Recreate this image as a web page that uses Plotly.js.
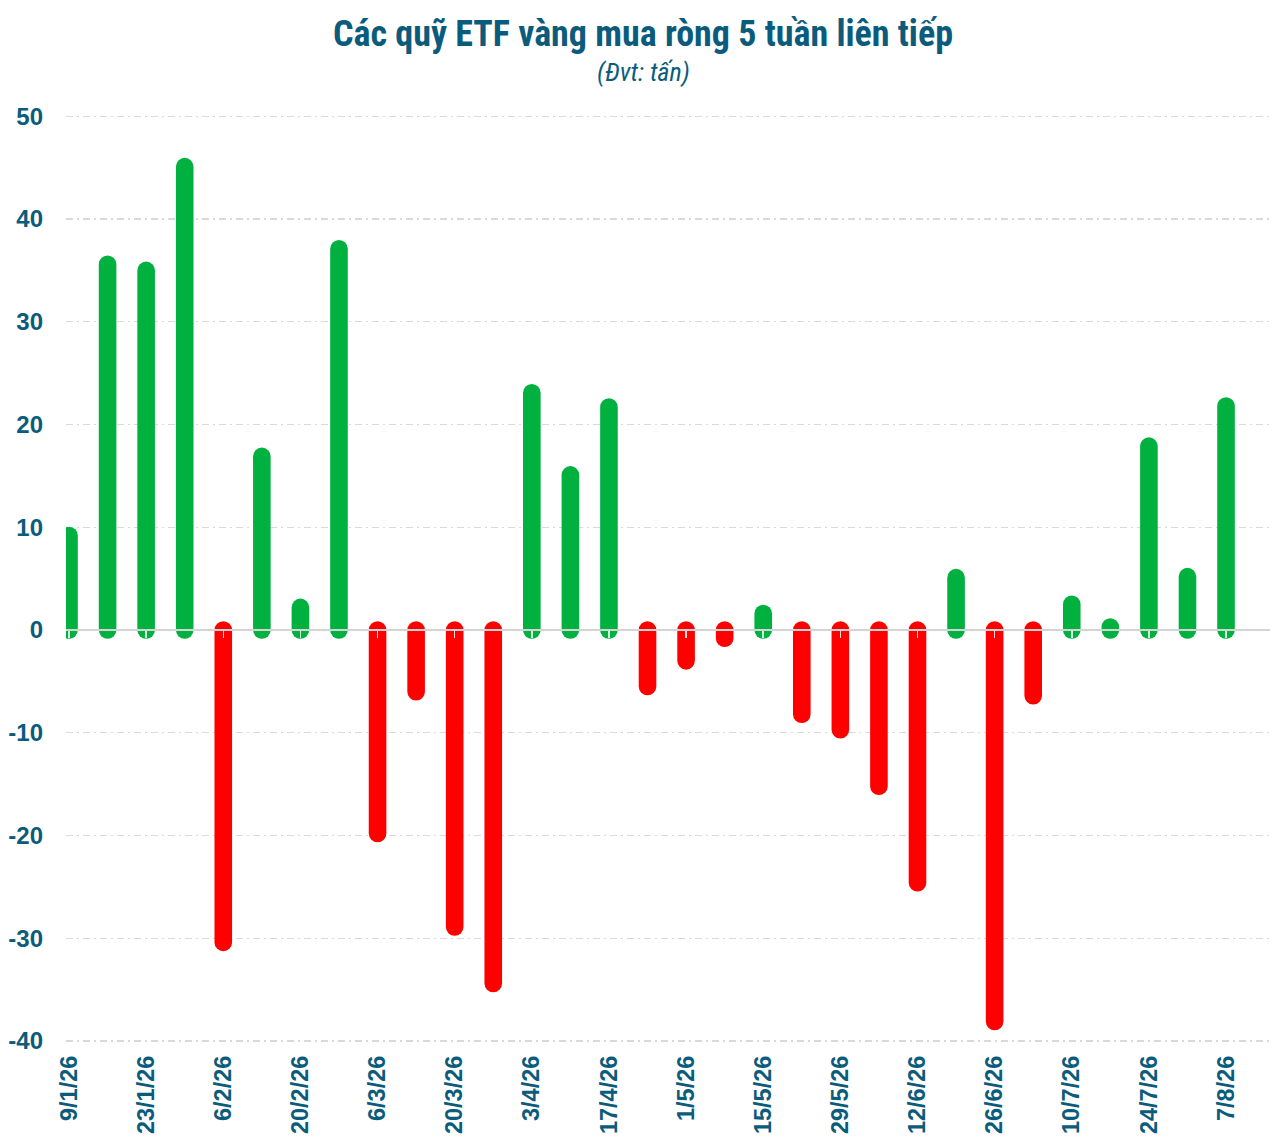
<!DOCTYPE html>
<html>
<head>
<meta charset="utf-8">
<script src="https://cdn.plot.ly/plotly-3.0.1.min.js"></script>
<style>
  html, body { margin: 0; padding: 0; background: #ffffff; }
  #chart { width: 1286px; height: 1144px; }
  #chart path.js-line { stroke-linecap: round !important; }
</style>
</head>
<body>
<div id="chart"></div>
<script>
// ---- Data (tấn) ----
const weeks = ['9/1/26','16/1/26','23/1/26','30/1/26','6/2/26','13/2/26','20/2/26','27/2/26',
  '6/3/26','13/3/26','20/3/26','27/3/26','3/4/26','10/4/26','17/4/26','24/4/26',
  '1/5/26','8/5/26','15/5/26','22/5/26','29/5/26','5/6/26','12/6/26','19/6/26',
  '26/6/26','3/7/26','10/7/26','17/7/26','24/7/26','31/7/26','7/8/26'];
const flows = [9.2, 35.6, 35.0, 45.1, -30.4, 16.9, 2.2, 37.1,
  -19.8, -6.0, -28.9, -34.4, 23.1, 15.1, 21.7, -5.5,
  -3.0, -0.8, 1.6, -8.2, -9.7, -15.2, -24.6, 5.1,
  -38.1, -6.4, 2.5, 0.3, 17.9, 5.2, 21.8];
const yTicks = [-40, -30, -20, -10, 0, 10, 20, 30, 40, 50];
const titleText = 'Các quỹ ETF vàng mua ròng 5 tuần liên tiếp';
const subtitleText = '(Đvt: tấn)';

// ---- Styling ----
const TEAL = '#0b5c7c';
const GREEN = '#00b140';
const RED = '#ff0000';
const BAR_W = 17.6;
const NARROW = '"Liberation Sans Narrow", "Roboto Condensed", "Arial Narrow", Roboto, sans-serif';
const SANS = '"Liberation Sans", Arial, sans-serif';

function segs(sign) {
  const x = [], y = [];
  flows.forEach((v, i) => {
    if ((sign > 0 && v >= 0) || (sign < 0 && v < 0)) {
      x.push(i, i, null);
      y.push(0, v, null);
    }
  });
  return {x, y};
}
const pos = segs(1), neg = segs(-1);

const labelIdx = weeks.map((w, i) => i).filter(i => i % 2 === 0);
const labelTxt = labelIdx.map(i => weeks[i]);

const yRange = [-40.29, 50.32];
const xRange = [-0.078, 31.14];
const zeroFrac = (0 - yRange[0]) / (yRange[1] - yRange[0]);

const traces = [
  {type: 'scatter', mode: 'lines', x: pos.x, y: pos.y, connectgaps: false,
   line: {color: GREEN, width: BAR_W, simplify: false}, hoverinfo: 'skip', showlegend: false},
  {type: 'scatter', mode: 'lines', x: neg.x, y: neg.y, connectgaps: false,
   line: {color: RED, width: BAR_W, simplify: false}, hoverinfo: 'skip', showlegend: false},
  {type: 'scatter', mode: 'markers', x: [0], y: [0], xaxis: 'x2', yaxis: 'y',
   marker: {opacity: 0, size: 1}, hoverinfo: 'skip', showlegend: false}
];

const layout = {
  width: 1286, height: 1144,
  margin: {l: 66, r: 16, t: 113, b: 100, pad: 0},
  paper_bgcolor: '#ffffff', plot_bgcolor: '#ffffff',
  showlegend: false, hovermode: false,
  title: {
    text: '<b>' + titleText + '</b>',
    x: 0.5, xref: 'container', xanchor: 'center',
    y: 1 - 33 / 1144, yref: 'container', yanchor: 'middle',
    font: {family: NARROW, size: 36, color: TEAL}
  },
  annotations: [{
    text: '<i>' + subtitleText + '</i>',
    xref: 'paper', x: (643 - 66) / 1204, xanchor: 'center',
    yref: 'paper', y: 1 + (113 - 72) / 931, yanchor: 'middle',
    showarrow: false,
    font: {family: NARROW, size: 26, color: TEAL}
  }],
  xaxis: {
    range: xRange, fixedrange: true,
    tickmode: 'array', tickvals: labelIdx, ticktext: labelTxt,
    tickangle: -90, ticks: '', showgrid: false, zeroline: false, showline: false,
    ticklabelstandoff: 6,
    tickfont: {family: SANS, size: 23.5, color: TEAL, weight: 'bold'}
  },
  xaxis2: {
    overlaying: 'x', anchor: 'free', position: zeroFrac, side: 'bottom',
    range: xRange, fixedrange: true,
    tickmode: 'array', tickvals: labelIdx, showticklabels: false,
    ticks: 'outside', ticklen: 7, tickwidth: 1.5, tickcolor: 'rgba(255,255,255,0.85)',
    showline: true, linecolor: '#d4d4d4', linewidth: 2,
    showgrid: false, zeroline: false, layer: 'above traces'
  },
  yaxis: {
    range: yRange, fixedrange: true,
    tickmode: 'array', tickvals: yTicks, ticktext: yTicks.map(String),
    showgrid: true, gridcolor: '#d9d9d9', gridwidth: 1.3, griddash: '7px,4px,2px,4px',
    zeroline: false, showline: false, ticks: '',
    ticklabelstandoff: 22,
    tickfont: {family: SANS, size: 24, color: TEAL, weight: 'bold'}
  }
};

Plotly.newPlot('chart', traces, layout, {staticPlot: true, displayModeBar: false});
</script>
</body>
</html>
